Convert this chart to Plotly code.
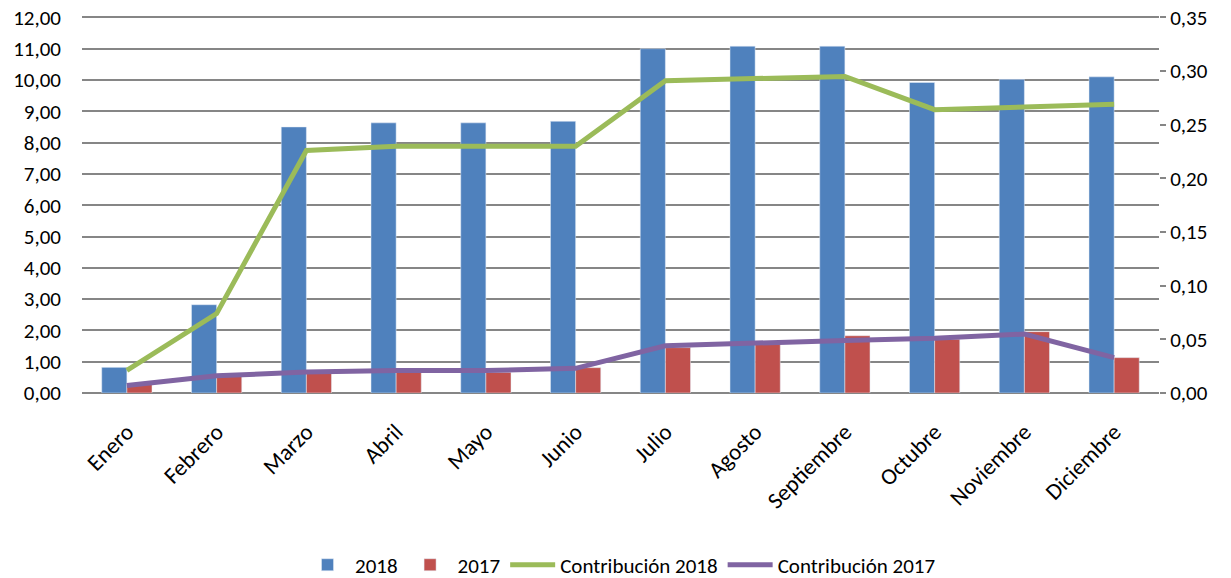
import plotly.graph_objects as go

meses = ["Enero", "Febrero", "Marzo", "Abril", "Mayo", "Junio", "Julio",
         "Agosto", "Septiembre", "Octubre", "Noviembre", "Diciembre"]
v2018 = [0.82, 2.82, 8.50, 8.63, 8.63, 8.68, 11.00, 11.08, 11.08, 9.92, 10.02, 10.10]
v2017 = [0.28, 0.56, 0.64, 0.66, 0.66, 0.81, 1.45, 1.58, 1.83, 1.72, 1.96, 1.13]
c2018 = [0.021, 0.074, 0.226, 0.230, 0.230, 0.230, 0.291, 0.293, 0.295, 0.264, 0.267, 0.269]
c2017 = [0.007, 0.016, 0.0195, 0.021, 0.021, 0.023, 0.044, 0.047, 0.049, 0.051, 0.055, 0.033]

left_ticks = [i for i in range(0, 13)]
left_text = [f"{t:.2f}".replace(".", ",") for t in left_ticks]
right_ticks = [0, 0.05, 0.10, 0.15, 0.20, 0.25, 0.30, 0.35]
right_text = [f"{t:.2f}".replace(".", ",") for t in right_ticks]

FONT = "Carlito, Lato, sans-serif"
FS = 21
TOP = 12.3  # headroom so the 12,00 gridline sits inside the plot area

fig = go.Figure()
fig.add_trace(go.Bar(x=meses, y=v2018, name="2018", marker_color="#4F81BD"))
fig.add_trace(go.Bar(x=meses, y=v2017, name="2017", marker_color="#C0504D"))
fig.add_trace(go.Scatter(x=meses, y=c2018, name="Contribución 2018", mode="lines",
                         line=dict(color="#9BBB59", width=5), yaxis="y2"))
fig.add_trace(go.Scatter(x=meses, y=c2017, name="Contribución 2017", mode="lines",
                         line=dict(color="#8064A2", width=5), yaxis="y2"))

fig.update_layout(
    width=1231, height=578,
    margin=dict(l=74, r=80, t=0, b=193, autoexpand=False),
    paper_bgcolor="white", plot_bgcolor="white",
    font=dict(family=FONT, size=FS, color="#000000"),
    barmode="group", bargap=0.44, bargroupgap=0,
    xaxis=dict(tickangle=-45, showgrid=False, showline=False, ticks="",
               tickfont=dict(size=FS + 2), automargin=False, ticklabelstandoff=20,
               ticklabeloverflow="allow"),
    yaxis=dict(range=[0, TOP], tickvals=left_ticks, ticktext=left_text,
               showgrid=True, gridcolor="#868686", gridwidth=2,
               zeroline=True, zerolinecolor="#868686", zerolinewidth=2,
               showline=False, ticks="", tickfont=dict(size=FS),
               automargin=False, ticklabelstandoff=20, ticklabeloverflow="allow"),
    yaxis2=dict(range=[0, 0.35 * TOP / 12], tickvals=right_ticks, ticktext=right_text,
                overlaying="y", side="right", showgrid=False, zeroline=False,
                showline=False, ticks="outside", ticklen=6, tickcolor="#868686",
                tickwidth=2, tickfont=dict(size=FS), automargin=False,
                ticklabelstandoff=0, ticklabeloverflow="allow"),
    legend=dict(orientation="h", x=0.5, xanchor="center", y=-0.447, yanchor="middle",
                font=dict(size=FS), traceorder="normal", itemwidth=45),
)

fig.write_html("out.html")
